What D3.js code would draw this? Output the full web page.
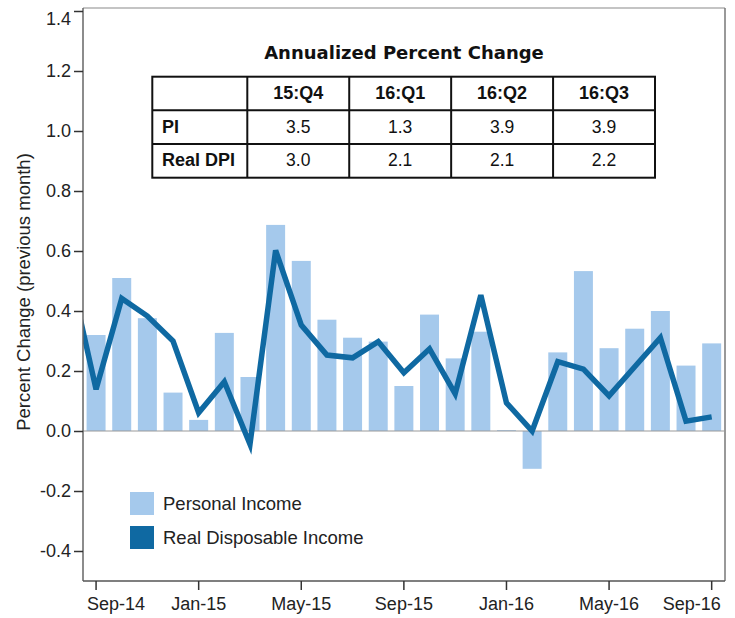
<!DOCTYPE html>
<html>
<head>
<meta charset="utf-8">
<script src="https://cdn.jsdelivr.net/npm/d3@7"></script>
<style>
  body { margin: 0; background: #fff; }
  svg { font-family: "Liberation Sans", Arial, sans-serif; }
</style>
</head>
<body>
<svg id="chart" width="735" height="618"></svg>
<script>
// monthly data, Aug-14 .. Sep-16 (Aug-14 only partly visible at the left edge)
const months = ["Aug-14","Sep-14","Oct-14","Nov-14","Dec-14","Jan-15","Feb-15","Mar-15","Apr-15",
  "May-15","Jun-15","Jul-15","Aug-15","Sep-15","Oct-15","Nov-15","Dec-15","Jan-16","Feb-16",
  "Mar-16","Apr-16","May-16","Jun-16","Jul-16","Aug-16","Sep-16"];
const personalIncome = [null, 0.32, 0.51, 0.376, 0.128, 0.037, 0.327, 0.18, 0.687, 0.567, 0.371,
  0.311, 0.298, 0.15, 0.388, 0.242, 0.331, 0.003, -0.126, 0.262, 0.533, 0.276, 0.341, 0.40, 0.218, 0.292];
const realDPI = [0.52, 0.139, 0.442, 0.383, 0.30, 0.061, 0.164, -0.044, 0.602, 0.353, 0.253,
  0.244, 0.298, 0.194, 0.274, 0.124, 0.453, 0.094, 0.0, 0.231, 0.206, 0.117, 0.214, 0.311, 0.033, 0.047];
const xTickLabels = ["Sep-14","Jan-15","May-15","Sep-15","Jan-16","May-16","Sep-16"];
const yTicks = [-0.4, -0.2, 0.0, 0.2, 0.4, 0.6, 0.8, 1.0, 1.2, 1.4];

// annualized table
const tableCols = ["15:Q4","16:Q1","16:Q2","16:Q3"];
const tableRows = ["PI","Real DPI"];
const piAnnual = ["3.5","1.3","3.9","3.9"];
const dpiAnnual = ["3.0","2.1","2.1","2.2"];

const barColor = "#a5c9ec";
const lineColor = "#0f69a2";

const svg = d3.select("#chart");
const plot = {left: 83, right: 725, top: 8, bottom: 581};

const x = d3.scaleBand()
  .domain(months)
  .range([57.6, 724.5])
  .paddingInner(0.26)
  .paddingOuter(0.13);

const y = d3.scaleLinear()
  .domain([-0.5, 1.41])
  .range([plot.bottom, plot.top]);

svg.append("defs").append("clipPath").attr("id", "clip")
  .append("rect")
  .attr("x", plot.left).attr("y", plot.top)
  .attr("width", plot.right - plot.left).attr("height", plot.bottom - plot.top);

// frame top / right
svg.append("line")
  .attr("x1", plot.left).attr("x2", plot.right)
  .attr("y1", plot.top).attr("y2", plot.top)
  .attr("stroke", "#b0b0b0").attr("stroke-width", 1.5);
svg.append("line")
  .attr("x1", plot.right).attr("x2", plot.right)
  .attr("y1", plot.top).attr("y2", plot.bottom)
  .attr("stroke", "#777").attr("stroke-width", 1.5);

const g = svg.append("g").attr("clip-path", "url(#clip)");

// bars
const barData = months.map((m, i) => ({m: m, v: personalIncome[i]})).filter(d => d.v !== null);
g.selectAll("rect.bar")
  .data(barData)
  .enter().append("rect")
  .attr("class", "bar")
  .attr("x", d => x(d.m))
  .attr("width", x.bandwidth())
  .attr("y", d => y(Math.max(0, d.v)))
  .attr("height", d => Math.abs(y(d.v) - y(0)))
  .attr("fill", barColor);

// zero line
g.append("line")
  .attr("x1", plot.left).attr("x2", plot.right)
  .attr("y1", y(0)).attr("y2", y(0))
  .attr("stroke", "#999")
  .attr("stroke-width", 1.2);

// line
const line = d3.line()
  .x((d, i) => x(months[i]) + x.bandwidth() / 2)
  .y(d => y(d));

g.append("path")
  .datum(realDPI)
  .attr("d", line)
  .attr("fill", "none")
  .attr("stroke", lineColor)
  .attr("stroke-width", 5.5)
  .attr("stroke-linejoin", "miter");

// axes
const yAxis = d3.axisLeft(y)
  .tickValues(yTicks)
  .tickSize(9)
  .tickPadding(3)
  .tickFormat(d => d.toFixed(1));

const yG = svg.append("g")
  .attr("transform", `translate(${plot.left},0)`)
  .call(yAxis);
yG.select(".domain").attr("d", `M0,${plot.top}V${plot.bottom}`)
  .attr("stroke", "#666").attr("stroke-width", 1.5);
yG.selectAll(".tick line").attr("stroke", "#333").attr("stroke-width", 1.5);
yG.selectAll(".tick text").style("font-size", "18px").attr("fill", "#222");
// top label sits a little lower than its tick, as in the original
yG.selectAll(".tick text").filter(d => d === 1.4).attr("y", 8);

const xAxis = d3.axisBottom(x)
  .tickValues(xTickLabels)
  .tickSize(9)
  .tickPadding(7)
  .tickSizeOuter(0);

const xG = svg.append("g")
  .attr("transform", `translate(0,${plot.bottom})`)
  .call(xAxis);
xG.select(".domain").attr("d", `M${plot.left},0H${plot.right}`)
  .attr("stroke", "#555").attr("stroke-width", 1.5);
xG.selectAll(".tick line").attr("stroke", "#333").attr("stroke-width", 1.5);
xG.selectAll(".tick text").style("font-size", "18px").attr("fill", "#222");
// first and last labels pulled inside the frame
xG.selectAll(".tick text")
  .filter(d => d === xTickLabels[0])
  .attr("text-anchor", "start").attr("x", -9);
xG.selectAll(".tick text")
  .filter(d => d === xTickLabels[xTickLabels.length - 1])
  .attr("text-anchor", "end").attr("x", 9);

// y title
svg.append("text")
  .attr("transform", "translate(30,292) rotate(-90)")
  .attr("text-anchor", "middle")
  .style("font-size", "18.5px")
  .attr("fill", "#222")
  .text("Percent Change (previous month)");

// legend
const legend = [
  {label: "Personal Income", color: barColor},
  {label: "Real Disposable Income", color: lineColor}
];
const lg = svg.append("g");
legend.forEach((d, i) => {
  lg.append("rect")
    .attr("x", 130).attr("y", 492 + i * 34)
    .attr("width", 24).attr("height", 23)
    .attr("fill", d.color);
  lg.append("text")
    .attr("x", 163).attr("y", 510 + i * 34)
    .style("font-size", "18.5px")
    .attr("fill", "#222")
    .text(d.label);
});

// table
const tbl = {left: 152.3, right: 655, top: 76.7, bottom: 177.7, firstCol: 247.3};
const colX = d3.scaleBand().domain(tableCols).range([tbl.firstCol, tbl.right]);
const rowY = d3.scaleBand().domain(["head"].concat(tableRows)).range([tbl.top, tbl.bottom]);

svg.append("text")
  .attr("x", 404).attr("y", 59)
  .attr("text-anchor", "middle")
  .style("font-family", "'DejaVu Sans', Verdana, sans-serif")
  .style("font-size", "18px")
  .style("font-weight", "bold")
  .attr("fill", "#111")
  .text("Annualized Percent Change");

const tg = svg.append("g");
tg.append("rect")
  .attr("x", tbl.left).attr("y", tbl.top)
  .attr("width", tbl.right - tbl.left).attr("height", tbl.bottom - tbl.top)
  .attr("fill", "#fff").attr("stroke", "#111").attr("stroke-width", 2);
[tbl.firstCol].concat(tableCols.slice(1).map(c => colX(c))).forEach(cx => {
  tg.append("line").attr("x1", cx).attr("x2", cx).attr("y1", tbl.top).attr("y2", tbl.bottom)
    .attr("stroke", "#111").attr("stroke-width", 2);
});
tableRows.forEach(r => {
  tg.append("line").attr("x1", tbl.left).attr("x2", tbl.right).attr("y1", rowY(r)).attr("y2", rowY(r))
    .attr("stroke", "#111").attr("stroke-width", 2);
});

const cellY = k => rowY(k) + rowY.bandwidth() / 2 + 5.5;
tableCols.forEach(c => {
  tg.append("text")
    .attr("x", colX(c) + colX.bandwidth() / 2).attr("y", cellY("head"))
    .attr("text-anchor", "middle")
    .style("font-size", "18px").style("font-weight", "bold").attr("fill", "#111")
    .text(c);
});
const rowValues = [piAnnual, dpiAnnual];
tableRows.forEach((r, ri) => {
  tg.append("text")
    .attr("x", 162).attr("y", cellY(r))
    .style("font-size", "18px").style("font-weight", "bold").attr("fill", "#111")
    .text(r);
  tableCols.forEach((c, ci) => {
    tg.append("text")
      .attr("x", colX(c) + colX.bandwidth() / 2).attr("y", cellY(r))
      .attr("text-anchor", "middle")
      .style("font-size", "17.5px").attr("fill", "#111")
      .text(rowValues[ri][ci]);
  });
});
</script>
</body>
</html>
